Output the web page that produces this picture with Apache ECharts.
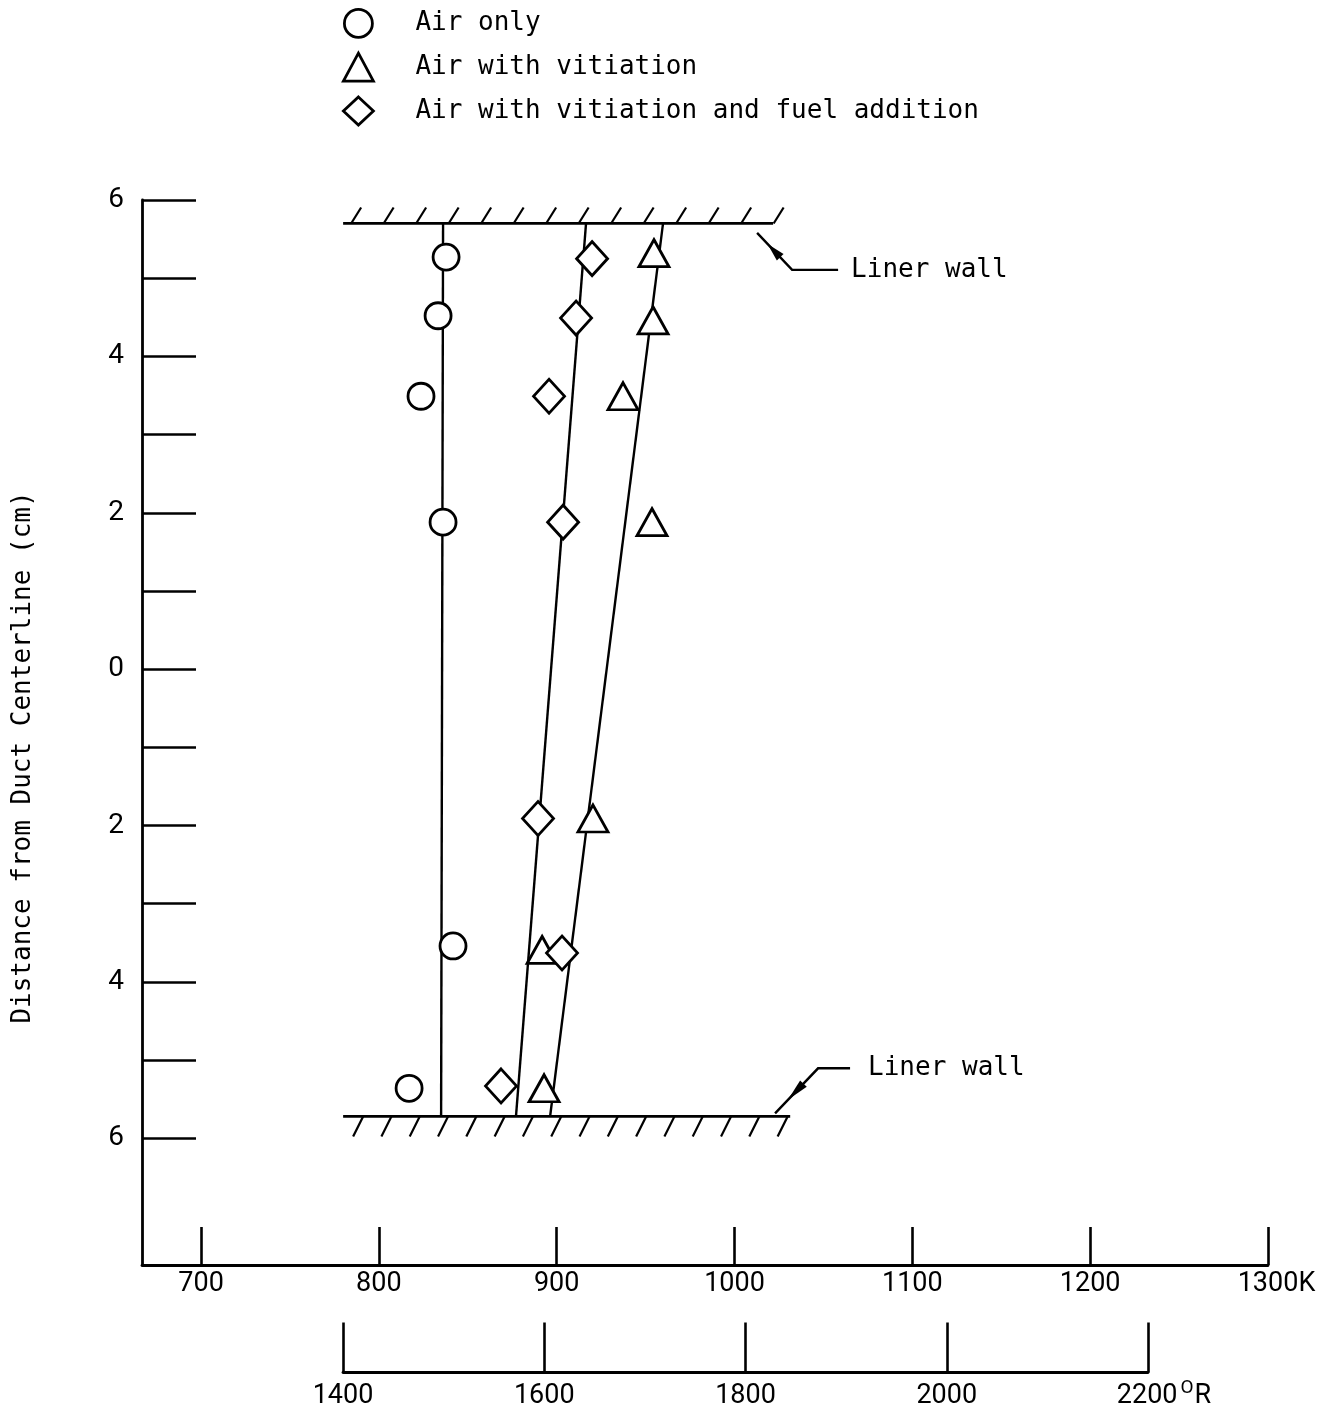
<!DOCTYPE html>
<html>
<head>
<meta charset="utf-8">
<script src="https://cdn.jsdelivr.net/npm/echarts@6/dist/echarts.min.js"></script>
<style>
  html, body { margin: 0; padding: 0; background: #fff; }
  #chart { width: 1339px; height: 1410px; }
</style>
</head>
<body>
<div id="chart"></div>
<script>
// Gas temperature across the duct: [temperature K, distance from centerline cm]
const airOnly = [[837.8, 5.27], [833.3, 4.52], [823.7, 3.49], [836.1, 1.88], [841.7, -3.54], [817.0, -5.36]];
const airVitiated = [[954.7, 5.32], [954.2, 4.46], [937.3, 3.49], [953.6, 1.88], [920.4, -1.91], [891.8, -3.59], [892.9, -5.36]];
const airVitiatedFuel = [[919.9, 5.25], [910.9, 4.49], [895.7, 3.49], [903.6, 1.88], [889.5, -1.91], [903.0, -3.63], [868.7, -5.33]];

// Faired profiles, drawn wall to wall
const airOnlyFit = [[836.1, 5.70], [835.0, -5.72]];
const airVitiatedFit = [[959.8, 5.70], [896.3, -5.72]];
const airVitiatedFuelFit = [[916.5, 5.70], [877.1, -5.72]];

// Liner walls: [from K, to K, distance cm, side (+1 hatch above, -1 below)]
const linerWalls = [[779.9, 1021.7, 5.70, 1], [779.9, 1031.3, -5.72, -1]];
// Wall callouts: [K, cm, side]
const wallNotes = [[1012.7, 5.58, 1], [1022.8, -5.68, -1]];
const wallNoteText = 'Liner wall';

const kelvinTicks = [700, 800, 900, 1000, 1100, 1200, 1300];
const rankineTicks = [1400, 1600, 1800, 2000, 2200];
const distanceTicks = [6, 5, 4, 3, 2, 1, 0, -1, -2, -3, -4, -5, -6];
const distanceLabels = [6, 4, 2, 0, -2, -4, -6];

const seriesNames = ['Air only', 'Air with vitiation', 'Air with vitiation and fuel addition'];
const yTitle = 'Distance from Duct Centerline (cm)';

const MONO = "'DejaVu Sans Mono', 'Liberation Mono', monospace";
const NUM = "Roboto, 'Liberation Sans', sans-serif";
const INK = '#000';

const markerStyle = { color: '#fff', borderColor: INK, borderWidth: 2.8, opacity: 1 };

function wallRender(params, api) {
  const y = api.value(2);
  const p1 = api.coord([api.value(0), y]);
  const p2 = api.coord([api.value(1), y]);
  const above = api.value(3) > 0;
  const children = [{
    type: 'line',
    shape: { x1: p1[0], y1: p1[1], x2: p2[0], y2: p2[1] },
    style: { stroke: INK, lineWidth: 2.8 }
  }];
  const step = above ? 32.5 : 28.3;
  const first = above ? 8 : 20;
  for (let x = p1[0] + first; x <= p2[0] + 1; x += step) {
    children.push({
      type: 'line',
      shape: above
        ? { x1: x, y1: p1[1], x2: x + 10, y2: p1[1] - 16 }
        : { x1: x, y1: p1[1], x2: x - 10, y2: p1[1] + 20 },
      style: { stroke: INK, lineWidth: 2.2 }
    });
  }
  return { type: 'group', children };
}

function arrowHead(tx, ty, dx, dy) {
  // narrow head lying on the leader, pointing back to (tx, ty)
  const len = Math.hypot(dx, dy);
  const ux = dx / len, uy = dy / len;
  const nx = -uy, ny = ux;
  const a = 0.30 * len, b = 0.66 * len, w = 4.6;
  return {
    type: 'polygon',
    shape: { points: [
      [tx + ux * a, ty + uy * a],
      [tx + ux * b + nx * w, ty + uy * b + ny * w],
      [tx + ux * b - nx * w, ty + uy * b - ny * w]
    ] },
    style: { fill: INK }
  };
}

function noteRender(params, api) {
  const p = api.coord([api.value(0), api.value(1)]);
  const above = api.value(2) > 0;
  const kx = above ? 35 : 43, ky = above ? 37 : -45;
  const hx = above ? 81 : 75;
  const tx = above ? 94 : 93;
  return {
    type: 'group',
    children: [
      {
        type: 'polyline',
        shape: { points: [[p[0], p[1]], [p[0] + kx, p[1] + ky], [p[0] + hx, p[1] + ky]] },
        style: { stroke: INK, lineWidth: 2.4, fill: null }
      },
      arrowHead(p[0], p[1], kx, ky),
      {
        type: 'text',
        x: p[0] + tx, y: p[1] + ky,
        style: {
          text: wallNoteText, fill: INK, font: '26px ' + MONO,
          textAlign: 'left', textVerticalAlign: 'middle'
        }
      }
    ]
  };
}

const chart = echarts.init(document.getElementById('chart'), null, { renderer: 'canvas' });

chart.setOption({
  backgroundColor: '#fff',
  animation: false,
  legend: {
    orient: 'vertical',
    left: 337,
    top: 3,
    itemWidth: 30,
    itemHeight: 28,
    itemGap: 13,
    selectedMode: false,
    data: [
      { name: seriesNames[0], icon: 'circle' },
      { name: seriesNames[1], icon: 'triangle' },
      { name: seriesNames[2], icon: 'diamond' }
    ],
    itemStyle: markerStyle,
    textStyle: { fontFamily: MONO, fontSize: 26, color: INK, padding: [0, 0, 0, 37] }
  },
  grid: [
    { left: 142, right: 71, top: 200, bottom: 145, containLabel: false },
    { left: 343, right: 191, top: 1300, bottom: 34, containLabel: false }
  ],
  xAxis: [
    {
      type: 'value', gridIndex: 0, min: 666.8, max: 1300, position: 'bottom',
      axisLine: { show: true, onZero: false, lineStyle: { color: INK, width: 2.8 } },
      axisTick: { show: true, inside: true, length: 38, customValues: kelvinTicks, lineStyle: { color: INK, width: 2.6 } },
      axisLabel: {
        customValues: kelvinTicks, margin: 6, color: INK, fontFamily: NUM, fontSize: 27,
        formatter: v => v === 1300 ? '{pad|}{n|1300K}' : '{n|' + v + '}',
        rich: { n: { fontFamily: NUM, fontSize: 27, color: INK }, pad: { width: 17 } }
      },
      splitLine: { show: false }
    },
    {
      type: 'value', gridIndex: 1, min: 1400, max: 2200, interval: 200, position: 'bottom',
      axisLine: { show: true, onZero: false, lineStyle: { color: INK, width: 2.8 } },
      axisTick: { show: true, inside: true, length: 50, lineStyle: { color: INK, width: 2.6 } },
      axisLabel: {
        margin: 6, color: INK, showMinLabel: true, showMaxLabel: true,
        formatter: v => v === 2200 ? '{pad|}{n|2200}{s|O}{n|R}' : '{n|' + v + '}',
        rich: {
          n: { fontFamily: NUM, fontSize: 27, color: INK, lineHeight: 36 },
          s: { fontFamily: NUM, fontSize: 19, color: INK, verticalAlign: 'top', padding: [0, 1, 0, 3] },
          pad: { width: 32 }
        }
      },
      splitLine: { show: false }
    }
  ],
  yAxis: [
    {
      type: 'value', gridIndex: 0, min: -7.62, max: 6,
      name: yTitle, nameLocation: 'middle', nameGap: 106, nameRotate: 90,
      nameTextStyle: { fontFamily: MONO, fontSize: 26, color: INK, padding: [0, 50, 0, 0] },
      axisLine: { show: true, onZero: false, lineStyle: { color: INK, width: 2.8 } },
      axisTick: { show: true, inside: true, length: 54, customValues: distanceTicks, lineStyle: { color: INK, width: 2.6 } },
      axisLabel: {
        customValues: distanceLabels, margin: 18, color: INK, fontFamily: NUM, fontSize: 28,
        formatter: v => String(Math.abs(v))
      },
      splitLine: { show: false }
    },
    { type: 'value', gridIndex: 1, show: false, min: 0, max: 1 }
  ],
  series: [
    {
      type: 'line', xAxisIndex: 0, yAxisIndex: 0, data: airOnlyFit, symbol: 'none', z: 2,
      lineStyle: { color: INK, width: 2.4 }, silent: true
    },
    {
      type: 'line', xAxisIndex: 0, yAxisIndex: 0, data: airVitiatedFit, symbol: 'none', z: 2,
      lineStyle: { color: INK, width: 2.4 }, silent: true
    },
    {
      type: 'line', xAxisIndex: 0, yAxisIndex: 0, data: airVitiatedFuelFit, symbol: 'none', z: 2,
      lineStyle: { color: INK, width: 2.4 }, silent: true
    },
    {
      type: 'custom', xAxisIndex: 0, yAxisIndex: 0, data: linerWalls, renderItem: wallRender,
      clip: false, z: 3, silent: true
    },
    {
      type: 'custom', xAxisIndex: 0, yAxisIndex: 0, data: wallNotes, renderItem: noteRender,
      clip: false, z: 3, silent: true
    },
    {
      name: seriesNames[0], type: 'scatter', xAxisIndex: 0, yAxisIndex: 0, data: airOnly,
      symbol: 'circle', symbolSize: 26, itemStyle: markerStyle, z: 5
    },
    {
      name: seriesNames[1], type: 'scatter', xAxisIndex: 0, yAxisIndex: 0, data: airVitiated,
      symbol: 'triangle', symbolSize: [30, 27], itemStyle: markerStyle, z: 5
    },
    {
      name: seriesNames[2], type: 'scatter', xAxisIndex: 0, yAxisIndex: 0, data: airVitiatedFuel,
      symbol: 'diamond', symbolSize: [31, 34], itemStyle: markerStyle, z: 5
    }
  ]
});
</script>
</body>
</html>
